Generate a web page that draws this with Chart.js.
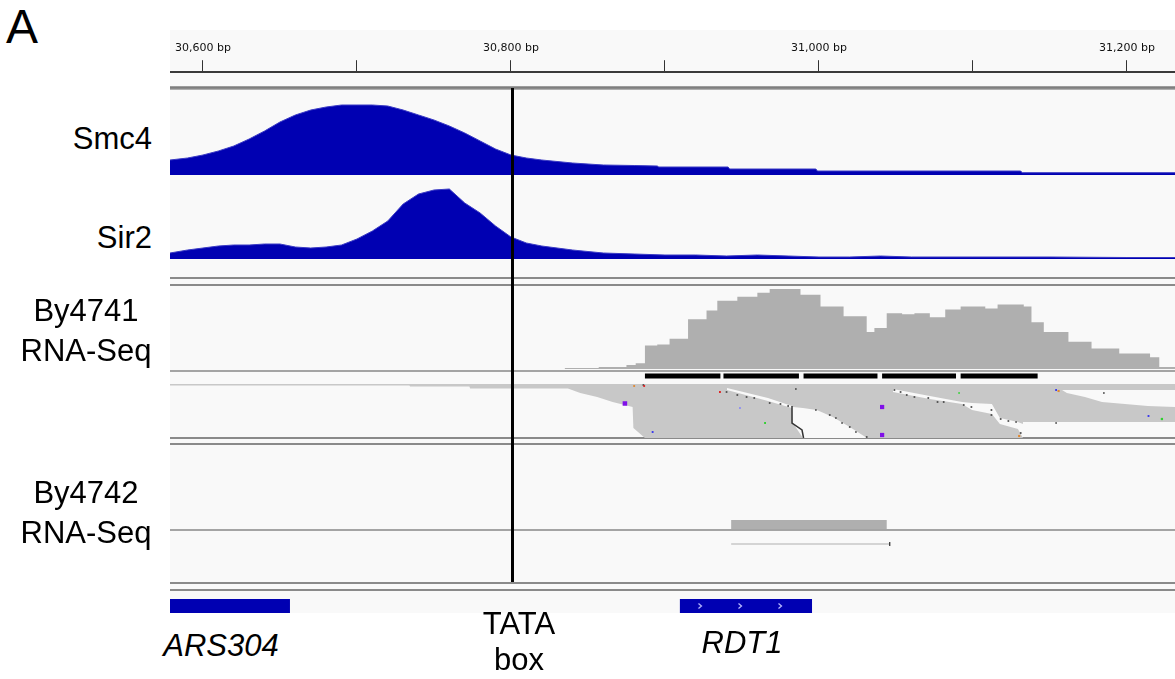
<!DOCTYPE html>
<html>
<head>
<meta charset="utf-8">
<script src="https://cdn.jsdelivr.net/npm/chart.js@4.4.0/dist/chart.umd.min.js"></script>
<style>
  body { margin: 0; width: 1175px; height: 679px; background: #fff; position: relative; overflow: hidden;
         font-family: "Liberation Sans", Arial, sans-serif; }
  canvas { position: absolute; display: block; }
  .panel { position: absolute; left: 170px; top: 30px; width: 1005px; height: 583px; background: #f9f9f9; }
  .sep { position: absolute; left: 170px; width: 1005px; }
  .lbl { position: absolute; font-size: 31px; line-height: 40px; color: #000; white-space: nowrap; }
  .gene { font-style: italic; }
</style>
</head>
<body>
<div class="panel"></div>

<!-- track dividers -->
<div class="sep" style="top:86px;height:4px;background:linear-gradient(#b0b0b0,#7c7c7c,#8c8c8c,#c4c4c4)"></div>
<div class="sep" style="top:277px;height:2px;background:#8a8a8a"></div>
<div class="sep" style="top:284px;height:2px;background:#8a8a8a"></div>
<div class="sep" style="top:370px;height:2px;background:#a4a4a4"></div>
<div class="sep" style="top:437px;height:2px;background:#8a8a8a"></div>
<div class="sep" style="top:443px;height:2px;background:#8a8a8a"></div>
<div class="sep" style="top:529px;height:2px;background:#a4a4a4"></div>
<div class="sep" style="top:582px;height:2px;background:#8a8a8a"></div>
<div class="sep" style="top:589px;height:2px;background:#8a8a8a"></div>

<canvas id="ruler" width="1005" height="80" style="left:170px;top:30px"></canvas>
<canvas id="smc4" width="1005" height="84" style="left:170px;top:91px"></canvas>
<canvas id="sir2" width="1005" height="82" style="left:170px;top:177px"></canvas>
<canvas id="cov41" width="1005" height="82" style="left:170px;top:287px"></canvas>
<canvas id="reads41" width="1005" height="66" style="left:170px;top:372px"></canvas>
<canvas id="cov42" width="1005" height="81" style="left:170px;top:448px"></canvas>
<canvas id="reads42" width="1005" height="50" style="left:170px;top:531px"></canvas>
<canvas id="genes" width="1005" height="14" style="left:170px;top:599px"></canvas>
<canvas id="tata" width="1005" height="494" style="left:170px;top:88px;z-index:5"></canvas>

<div class="lbl" style="left:6px;top:3px;font-size:48px;line-height:48px">A</div>
<div class="lbl" style="right:1023px;top:119px">Smc4</div>
<div class="lbl" style="right:1023px;top:218px">Sir2</div>
<div class="lbl" style="left:0;width:172px;text-align:center;top:291px">By4741<br>RNA-Seq</div>
<div class="lbl" style="left:0;width:172px;text-align:center;top:473px">By4742<br>RNA-Seq</div>
<div class="lbl gene" style="left:121px;width:200px;text-align:center;top:626px">ARS304</div>
<div class="lbl" style="left:419px;width:200px;text-align:center;top:606px;line-height:36px">TATA<br>box</div>
<div class="lbl gene" style="left:642px;width:200px;text-align:center;top:623px">RDT1</div>

<script>
// visible window (bp)
const xMin = 30578.6;
const xMax = 31231.2;

// ruler
const rulerTicks = [30600, 30700, 30800, 30900, 31000, 31100, 31200];
const rulerLabels = ['30,600 bp', '', '30,800 bp', '', '31,000 bp', '', '31,200 bp'];

// ChIP tracks
const smc4Pos = [30578.6, 30590, 30600, 30610, 30620, 30630, 30640, 30650, 30660, 30670, 30680, 30690, 30700,
  30710, 30720, 30730, 30740, 30750, 30760, 30770, 30780, 30790, 30800, 30810, 30820, 30840, 30860, 30880,
  30895, 30896, 30941, 30942, 30998, 30999, 31131, 31132, 31231.2];
const smc4Val = [15, 17, 20, 24, 29, 36, 44, 53, 60, 65, 68, 70, 70,
  70, 69, 65, 60, 55, 49, 42, 34, 26, 20, 17, 15, 12, 10, 9.5,
  9, 8, 8, 6, 6, 4, 4, 2.3, 2.3];

const sir2Pos = [30578.6, 30590, 30600, 30610, 30620, 30630, 30640, 30650, 30660, 30670, 30680, 30690, 30700,
  30710, 30720, 30730, 30740, 30750, 30760, 30770, 30780, 30790, 30800, 30810, 30820, 30840, 30860, 30880,
  30900, 30920, 30940, 30960, 30980, 31000, 31020, 31040, 31060, 31100, 31150, 31200, 31231.2];
const sir2Val = [6, 9, 11, 13, 14, 14, 15, 15, 12, 11, 12, 14, 20,
  28, 38, 55, 65, 69, 70, 56, 46, 33, 22, 16, 13, 9, 6, 5,
  4, 4, 3, 4, 3, 2, 2, 3, 2, 2, 2, 1.5, 1.5];

// By4741 coverage (bin starts)
const cov41Pos = [30578.6, 30835, 30857, 30875, 30881, 30887, 30895, 30903, 30915, 30927, 30934, 30947, 30960,
  30968, 30981, 30988, 31001, 31016, 31031, 31036, 31044, 31054, 31062, 31072, 31082, 31092, 31108, 31116,
  31133, 31138, 31146, 31162, 31177, 31195, 31215, 31221, 31231.2];
const cov41Val = [0, 1, 2, 4, 6, 24, 25, 31, 51, 60, 70, 74, 78,
  82, 82, 76, 64, 54, 38, 42, 57, 56, 57, 53, 61, 64, 62, 66,
  64, 48, 38, 28, 21, 16, 12, 2, 2];

// splice junction blocks
const juncStart = [30887, 30938, 30990, 31041, 31092];
const juncEnd = [30936, 30987, 31038, 31089, 31142];

// pileup depth (rows from top of read area)
const pileupPos = [30578.6, 30734, 30734.5, 30773, 30773.5, 30837, 30845, 30856, 30866, 30879, 30879.5, 30887,
  31132, 31132.5, 31231.2];
const pileupDepth = [1.5, 1.5, 2.5, 2.5, 4.5, 4.5, 9, 13, 18, 23, 44, 54, 54, 38, 38];

// gaps in the pileup
const gap1Pos = [30940.3, 30966.9, 30982.5, 30983.1, 30989.6, 30998.6, 31009, 31020, 31031.2];
const gap1Top = [4, 14, 22, 23, 24, 26, 33, 43, 54];
const gap1Bot = [6, 17, 24, 39, 54, 54, 54, 54, 54];
const gap2Pos = [31048, 31072, 31092.9, 31099.4, 31112.3, 31117.5, 31129.2, 31132.5];
const gap2Top = [5, 12, 18, 19, 20, 34, 38, 40];
const gap2Bot = [8, 15, 20, 26, 30, 40, 45, 54];
const gap3Pos = [31157.8, 31161, 31172.7, 31183.8, 31198.7, 31213.6, 31231.2];
const gap3Top = [6, 6, 6, 6, 6, 6, 6];
const gap3Bot = [6, 9, 13, 18, 20, 22, 23];

// read ends
const edgePos = [30982.5, 30982.5, 30989, 30990];
const edgeDepth = [22, 39, 46, 54];
const endPos = [30886, 30985, 30940, 30947, 30953, 30958, 30968, 30975, 30980, 30998, 31007, 31011, 31015,
  31020, 31024, 31031, 31049, 31053, 31057, 31062, 31071, 31077, 31081, 31094, 31099, 31112, 31112, 31118,
  31123, 31128, 31131, 31154, 31185];
const endDepth = [1, 5, 8, 11, 13, 14, 19, 20, 22, 26, 31, 34, 39, 43, 48, 53, 6, 8, 11, 13, 14, 18, 18, 21,
  23, 26, 31, 35, 37, 38, 49, 39, 9];

// mismatches
const misPos = [30874, 31041, 31041, 30935.7, 30965, 30892, 31214, 31222.7, 31130, 31154, 31155.6, 31091, 30880,
  30886.5, 30948.7];
const misDepth = [19.5, 23, 51, 8, 39, 48, 32, 35, 52, 6, 7, 9, 2, 2, 24];
const misColor = ['#8010e8', '#8010e8', '#8010e8', '#e02020', '#30d030', '#3030f0', '#3030f0', '#30d030',
  '#e08830', '#3030f0', '#e08830', '#50d050', '#e08830', '#e02020', '#9090f0'];
const misSize = [3.2, 3, 3, 1.3, 1.3, 1.3, 1.3, 1.6, 1.5, 1.3, 1.5, 1.3, 1.3, 1.3, 1.3];

// By4742
const cov42Pos = [30578.6, 30943, 31044, 31231.2];
const cov42Val = [0, 9, 0, 0];
const read42Start = 30943;
const read42End = 31046;

// annotation
const geneNames = ['ARS304', 'RDT1'];
const geneStart = [30560, 30909.7];
const geneEnd = [30656.5, 30995.5];
const arrowPos = [30922.7, 30948.7, 30974.7];
const tataPos = 30801;

const blue = '#0000b2';
const pts = (pos, val) => pos.map((p, i) => ({x: p, y: val[i]}));
const none = 'rgba(0,0,0,0)';

function track(id, datasets, yMin, yMax, reverse) {
  return new Chart(document.getElementById(id), {
    type: 'line',
    data: {datasets},
    options: {
      responsive: false, animation: false, events: [], devicePixelRatio: 1,
      layout: {padding: 0, autoPadding: false},
      plugins: {legend: {display: false}, tooltip: {enabled: false}},
      elements: {point: {radius: 0}, line: {tension: 0}},
      scales: {
        x: {type: 'linear', min: xMin, max: xMax, display: false},
        y: {display: false, min: yMin, max: yMax, reverse: !!reverse}
      }
    }
  });
}

// ruler
new Chart(document.getElementById('ruler'), {
  type: 'line',
  data: {datasets: []},
  options: {
    responsive: false, animation: false, events: [], devicePixelRatio: 1,
    layout: {padding: {top: 7, left: 0, right: 0, bottom: 0}, autoPadding: false},
    plugins: {legend: {display: false}, tooltip: {enabled: false}},
    scales: {
      x: {
        type: 'linear', position: 'top', min: xMin, max: xMax,
        afterBuildTicks: axis => { axis.ticks = rulerTicks.map(v => ({value: v})); },
        ticks: {autoSkip: false, maxRotation: 0, padding: 5, color: '#111',
                font: {family: 'DejaVu Sans', size: 11}, callback: (v, i) => rulerLabels[i]},
        grid: {drawOnChartArea: false, drawTicks: true, tickLength: 12, color: '#333', lineWidth: 1},
        border: {display: true, color: '#3a3a3a', width: 2}
      },
      y: {display: false, min: 0, max: 1}
    }
  }
});

track('smc4', [{data: pts(smc4Pos, smc4Val), fill: 'origin', backgroundColor: blue,
  borderColor: '#3a3ac4', borderWidth: 1}], 0, 84);

track('sir2', [{data: pts(sir2Pos, sir2Val), fill: 'origin', backgroundColor: blue,
  borderColor: '#3a3ac4', borderWidth: 1}], 0, 82);

track('cov41', [{data: pts(cov41Pos, cov41Val), fill: 'origin', stepped: true,
  backgroundColor: '#afafaf', borderColor: none, borderWidth: 1}], 0, 84);

const juncData = juncStart.flatMap((s, i) => [{x: s, y: -8}, {x: juncEnd[i], y: -8}, {x: juncEnd[i], y: null}]);
const gapSets = [[gap1Pos, gap1Top, gap1Bot], [gap2Pos, gap2Top, gap2Bot], [gap3Pos, gap3Top, gap3Bot]]
  .flatMap(([p, t, b]) => [
    {data: pts(p, t), borderColor: none, borderWidth: 1, fill: false},
    {data: pts(p, b), borderColor: none, borderWidth: 1, fill: '-1', backgroundColor: '#f9f9f9'}
  ]);

track('reads41', [
  {data: pts(misPos, misDepth), showLine: false, pointStyle: 'rect', pointRadius: misSize,
   pointBackgroundColor: misColor, pointBorderWidth: 0},
  {data: pts(endPos, endDepth), showLine: false, pointStyle: 'rect', pointRadius: 1.2,
   pointBackgroundColor: '#444', pointBorderWidth: 0},
  {data: pts(edgePos, edgeDepth), borderColor: '#333', borderWidth: 1.5, fill: false},
  ...gapSets,
  {data: juncData, borderColor: '#000', borderWidth: 5, borderCapStyle: 'butt', spanGaps: false, fill: false},
  {data: pts(pileupPos, pileupDepth), fill: {value: 0}, backgroundColor: '#c8c8c8', borderColor: none, borderWidth: 1}
], -12, 54, true);

track('cov42', [{data: pts(cov42Pos, cov42Val), fill: 'origin', stepped: true,
  backgroundColor: '#afafaf', borderColor: none, borderWidth: 1}], 0, 81);

track('reads42', [
  {data: [{x: read42End, y: 13}], showLine: false, pointStyle: 'line', rotation: 90, pointRadius: 2,
   pointBorderColor: '#000', pointBorderWidth: 1},
  {data: [{x: read42Start, y: 13}, {x: read42End, y: 13}], borderColor: '#d4d4d4', borderWidth: 2}
], 0, 50, true);

const chev = document.createElement('canvas');
chev.width = 6; chev.height = 8;
const cc = chev.getContext('2d');
cc.strokeStyle = '#b8b8ff'; cc.lineWidth = 1.3;
cc.beginPath(); cc.moveTo(1.5, 1.5); cc.lineTo(4.5, 4); cc.lineTo(1.5, 6.5); cc.stroke();

track('genes', [
  {data: arrowPos.map(p => ({x: p, y: 1})), showLine: false, pointStyle: chev, pointRadius: 4},
  ...geneNames.map((g, i) => ({label: g, data: [{x: geneStart[i], y: 1}, {x: geneEnd[i], y: 1}],
    borderColor: blue, borderWidth: 14, borderCapStyle: 'butt'}))
], 0, 2);

track('tata', [{data: [{x: tataPos, y: 0}, {x: tataPos, y: 1}], borderColor: '#000', borderWidth: 3}], 0, 1);
</script>
</body>
</html>
